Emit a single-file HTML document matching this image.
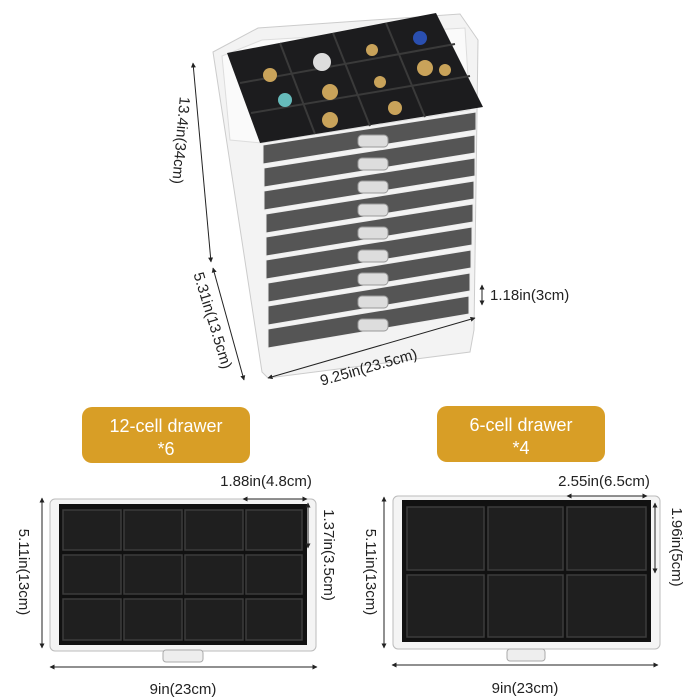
<!DOCTYPE html>
<html><head><meta charset="utf-8"><style>
html,body{margin:0;padding:0;background:#fff;width:700px;height:700px;overflow:hidden}
svg{display:block}
text{font-family:"Liberation Sans",sans-serif;fill:#222}
</style></head><body>
<svg width="700" height="700" viewBox="0 0 700 700" xmlns="http://www.w3.org/2000/svg">
<defs>
<marker id="a" viewBox="0 0 10 10" refX="9" refY="5" markerWidth="5" markerHeight="5" orient="auto-start-reverse"><path d="M0,0L10,5L0,10z" fill="#222"/></marker>
</defs>
<!-- tower -->
<polygon points="213,52 258,28 460,14 478,40 474,330 470,352 268,378 262,372" fill="#f3f3f3" stroke="#ccc"/>
<polygon points="222,56 262,40 465,28 470,110 262,143 230,140" fill="#fafafa" stroke="#ddd"/>
<!-- black tray -->
<polygon points="227,53 436,13 483,107 260,143" fill="#1c1c1e"/>
<g stroke="#3a3a3a" stroke-width="2">
<line x1="280" y1="43" x2="315" y2="134"/><line x1="333" y1="33" x2="370" y2="126"/><line x1="386" y1="23" x2="425" y2="117"/>
<line x1="240" y1="83" x2="455" y2="44"/><line x1="251" y1="113" x2="470" y2="76"/>
</g>
<g fill="#c9a35a"><circle cx="270" cy="75" r="7"/><circle cx="322" cy="62" r="9" fill="#ddd"/><circle cx="372" cy="50" r="6"/><circle cx="420" cy="38" r="7" fill="#2a4fb0"/><circle cx="425" cy="68" r="8"/><circle cx="285" cy="100" r="7" fill="#6bb"/><circle cx="330" cy="92" r="8"/><circle cx="380" cy="82" r="6"/><circle cx="445" cy="70" r="6"/><circle cx="330" cy="120" r="8"/><circle cx="395" cy="108" r="7"/></g>
<!-- drawers -->
<g fill="#555" stroke="#eee" stroke-width="1">
<polygon points="263,145 476,112 476,130 263,164"/>
<polygon points="264,168 475,135 475,153 264,187"/>
<polygon points="264,191 475,158 475,176 264,210"/>
<polygon points="266,214 474,181 474,199 266,233"/>
<polygon points="266,237 473,204 473,222 266,256"/>
<polygon points="266,260 472,227 472,245 266,279"/>
<polygon points="268,283 471,250 471,268 268,302"/>
<polygon points="268,306 470,273 470,291 268,325"/>
<polygon points="268,329 469,296 469,314 268,348"/>
</g>
<g fill="#ddd" stroke="#999" stroke-width="1">
<rect x="358" y="135" width="30" height="12" rx="4"/><rect x="358" y="158" width="30" height="12" rx="4"/><rect x="358" y="181" width="30" height="12" rx="4"/><rect x="358" y="204" width="30" height="12" rx="4"/><rect x="358" y="227" width="30" height="12" rx="4"/><rect x="358" y="250" width="30" height="12" rx="4"/><rect x="358" y="273" width="30" height="12" rx="4"/><rect x="358" y="296" width="30" height="12" rx="4"/><rect x="358" y="319" width="30" height="12" rx="4"/>
</g>
<!-- top dims -->
<line x1="193" y1="63" x2="211" y2="262" stroke="#222" marker-start="url(#a)" marker-end="url(#a)"/>
<text transform="translate(176,140) rotate(95)" font-size="15" text-anchor="middle">13.4in(34cm)</text>
<line x1="213" y1="268" x2="244" y2="380" stroke="#222" marker-start="url(#a)" marker-end="url(#a)"/>
<text transform="translate(208,322) rotate(73)" font-size="15" text-anchor="middle">5.31in(13.5cm)</text>
<line x1="268" y1="378" x2="475" y2="318" stroke="#222" marker-start="url(#a)" marker-end="url(#a)"/>
<text transform="translate(370,372) rotate(-16)" font-size="15" text-anchor="middle">9.25in(23.5cm)</text>
<line x1="482" y1="285" x2="482" y2="305" stroke="#222" marker-start="url(#a)" marker-end="url(#a)"/>
<text x="490" y="300" font-size="15">1.18in(3cm)</text>
<!-- badges -->
<rect x="82" y="407" width="168" height="56" rx="10" fill="#d89e26"/>
<text x="166" y="432" font-size="18" text-anchor="middle" style="fill:#fff">12-cell drawer</text>
<text x="166" y="455" font-size="18" text-anchor="middle" style="fill:#fff">*6</text>
<rect x="437" y="406" width="168" height="56" rx="10" fill="#d89e26"/>
<text x="521" y="431" font-size="18" text-anchor="middle" style="fill:#fff">6-cell drawer</text>
<text x="521" y="454" font-size="18" text-anchor="middle" style="fill:#fff">*4</text>
<!-- left drawer -->
<rect x="50" y="499" width="266" height="152" rx="5" fill="#f4f4f4" stroke="#bbb"/>
<rect x="59" y="504" width="248" height="141" fill="#111"/>
<g fill="#1f1f1f" stroke="#3c3c3c" stroke-width="1.5">
<rect x="63" y="510" width="58" height="40"/><rect x="124" y="510" width="58" height="40"/><rect x="185" y="510" width="58" height="40"/><rect x="246" y="510" width="56" height="40"/>
<rect x="63" y="555" width="58" height="39"/><rect x="124" y="555" width="58" height="39"/><rect x="185" y="555" width="58" height="39"/><rect x="246" y="555" width="56" height="39"/>
<rect x="63" y="599" width="58" height="41"/><rect x="124" y="599" width="58" height="41"/><rect x="185" y="599" width="58" height="41"/><rect x="246" y="599" width="56" height="41"/>
</g>
<rect x="163" y="650" width="40" height="12" rx="3" fill="#eee" stroke="#aaa"/>
<line x1="42" y1="498" x2="42" y2="648" stroke="#222" marker-start="url(#a)" marker-end="url(#a)"/>
<text transform="translate(19,572) rotate(90)" font-size="15" text-anchor="middle">5.11in(13cm)</text>
<line x1="243" y1="499" x2="307" y2="499" stroke="#222" marker-start="url(#a)" marker-end="url(#a)"/>
<text x="266" y="486" font-size="15" text-anchor="middle">1.88in(4.8cm)</text>
<line x1="308" y1="503" x2="308" y2="548" stroke="#222" marker-start="url(#a)" marker-end="url(#a)"/>
<text transform="translate(324,555) rotate(90)" font-size="15" text-anchor="middle">1.37in(3.5cm)</text>
<line x1="50" y1="667" x2="317" y2="667" stroke="#222" marker-start="url(#a)" marker-end="url(#a)"/>
<text x="183" y="694" font-size="15" text-anchor="middle">9in(23cm)</text>
<!-- right drawer -->
<rect x="393" y="496" width="267" height="153" rx="5" fill="#f4f4f4" stroke="#bbb"/>
<rect x="402" y="500" width="249" height="142" fill="#111"/>
<g fill="#1f1f1f" stroke="#3c3c3c" stroke-width="1.5">
<rect x="407" y="507" width="77" height="63"/><rect x="488" y="507" width="75" height="63"/><rect x="567" y="507" width="79" height="63"/>
<rect x="407" y="575" width="77" height="62"/><rect x="488" y="575" width="75" height="62"/><rect x="567" y="575" width="79" height="62"/>
</g>
<rect x="507" y="649" width="38" height="12" rx="3" fill="#eee" stroke="#aaa"/>
<line x1="384" y1="497" x2="384" y2="648" stroke="#222" marker-start="url(#a)" marker-end="url(#a)"/>
<text transform="translate(366,572) rotate(90)" font-size="15" text-anchor="middle">5.11in(13cm)</text>
<line x1="567" y1="496" x2="647" y2="496" stroke="#222" marker-start="url(#a)" marker-end="url(#a)"/>
<text x="604" y="486" font-size="15" text-anchor="middle">2.55in(6.5cm)</text>
<line x1="655" y1="503" x2="655" y2="573" stroke="#222" marker-start="url(#a)" marker-end="url(#a)"/>
<text transform="translate(672,547) rotate(90)" font-size="15" text-anchor="middle">1.96in(5cm)</text>
<line x1="392" y1="665" x2="658" y2="665" stroke="#222" marker-start="url(#a)" marker-end="url(#a)"/>
<text x="525" y="693" font-size="15" text-anchor="middle">9in(23cm)</text>
</svg>
</body></html>
